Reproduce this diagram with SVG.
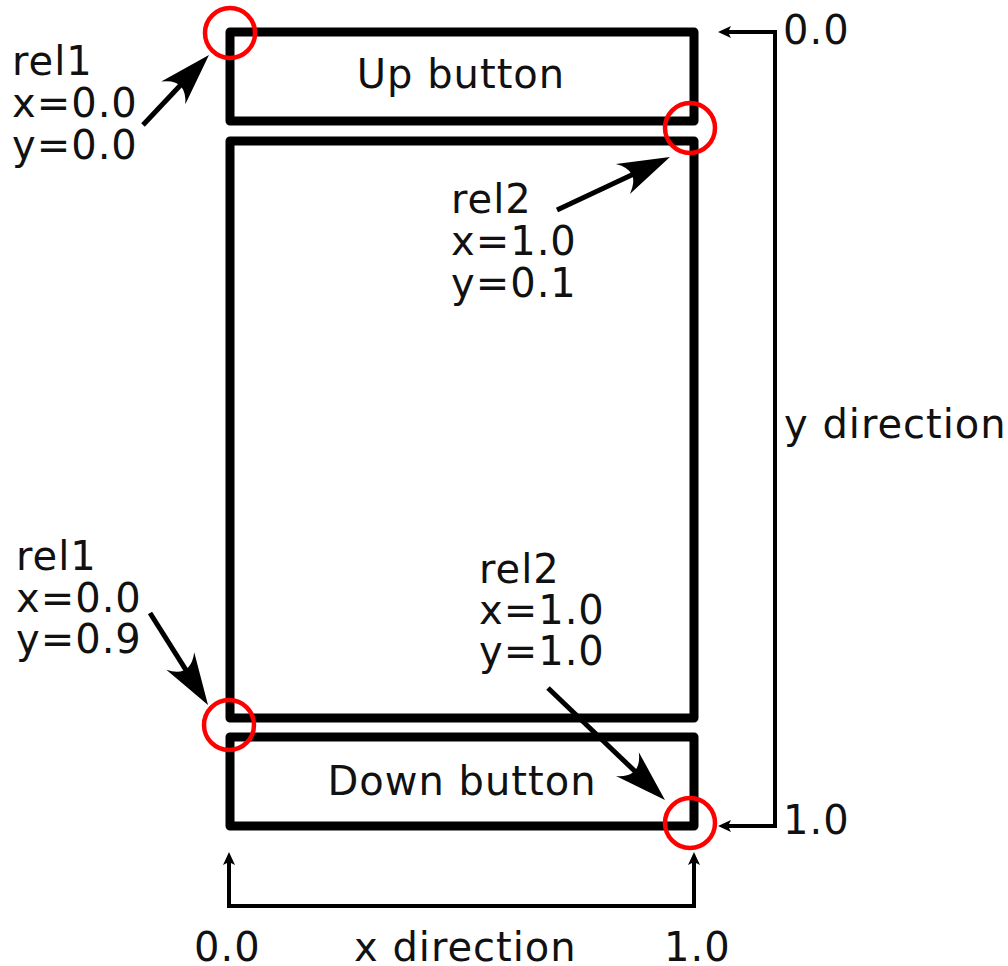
<svg xmlns="http://www.w3.org/2000/svg" width="1008" height="966" viewBox="0 0 1008 966">
<style>
.box{fill:none;stroke:#000;stroke-width:9;stroke-linejoin:round}
.hl{fill:none;stroke:#f00;stroke-width:4.5}
.t{font-family:"DejaVu Sans","Liberation Sans",sans-serif;font-size:40px;letter-spacing:1px;fill:#111}
.arr{fill:none;stroke:#000;stroke-width:5;marker-end:url(#big)}
.br{fill:none;stroke:#000;stroke-width:4;marker-start:url(#small);marker-end:url(#small)}
</style>
<defs>
<marker id="big" markerUnits="userSpaceOnUse" orient="auto" refX="0" refY="0" markerWidth="80" markerHeight="60" viewBox="-30 -30 80 60" overflow="visible">
<path d="M30,0 L-22,-16.5 Q-2,0 -22,16.5 Z" fill="#000"/>
</marker>
<marker id="small" markerUnits="userSpaceOnUse" orient="auto-start-reverse" refX="0" refY="0" markerWidth="30" markerHeight="20" viewBox="-10 -10 30 20" overflow="visible">
<path d="M10,0 L-3,-6 L0,0 L-3,6 Z" fill="#000"/>
</marker>
</defs>
<g id="up-button">
<rect class="box" x="230" y="32" width="464" height="89"/>
<text class="t" x="461" y="88" text-anchor="middle">Up button</text>
</g>
<g id="middle">
<rect class="box" x="230" y="141" width="464" height="577"/>
</g>
<g id="down-button">
<rect class="box" x="230" y="737" width="464" height="89"/>
<text class="t" x="462" y="795" text-anchor="middle">Down button</text>
</g>
<g id="markers">
<circle class="hl" cx="230" cy="33" r="25"/>
<circle class="hl" cx="690" cy="128" r="25"/>
<circle class="hl" cx="229" cy="725" r="25"/>
<circle class="hl" cx="690" cy="823" r="25"/>
</g>
<g id="labels">
<text class="t" x="12" y="75">rel1</text>
<text class="t" x="12" y="117">x=0.0</text>
<text class="t" x="12" y="159">y=0.0</text>
<text class="t" x="451" y="213">rel2</text>
<text class="t" x="451" y="255">x=1.0</text>
<text class="t" x="451" y="297">y=0.1</text>
<text class="t" x="16" y="570">rel1</text>
<text class="t" x="16" y="612">x=0.0</text>
<text class="t" x="16" y="653">y=0.9</text>
<text class="t" x="479" y="583">rel2</text>
<text class="t" x="479" y="624">x=1.0</text>
<text class="t" x="479" y="665">y=1.0</text>
<text class="t" x="783" y="44">0.0</text>
<text class="t" x="783" y="834">1.0</text>
<text class="t" x="784" y="438">y direction</text>
<text class="t" x="194" y="961">0.0</text>
<text class="t" x="354" y="961">x direction</text>
<text class="t" x="664" y="961">1.0</text>
</g>
<g id="connectors">
<path class="arr" d="M143,125 L188.4,76.8"/>
<path class="arr" d="M557,210 L642.8,169.7"/>
<path class="arr" d="M150,613 L192,679.6"/>
<path class="arr" d="M548,688 L643.3,779.3"/>
<path class="br" d="M728,32 H775 V826 H728"/>
<path class="br" d="M229,862 V906 H694 V862"/>
</g>
</svg>
